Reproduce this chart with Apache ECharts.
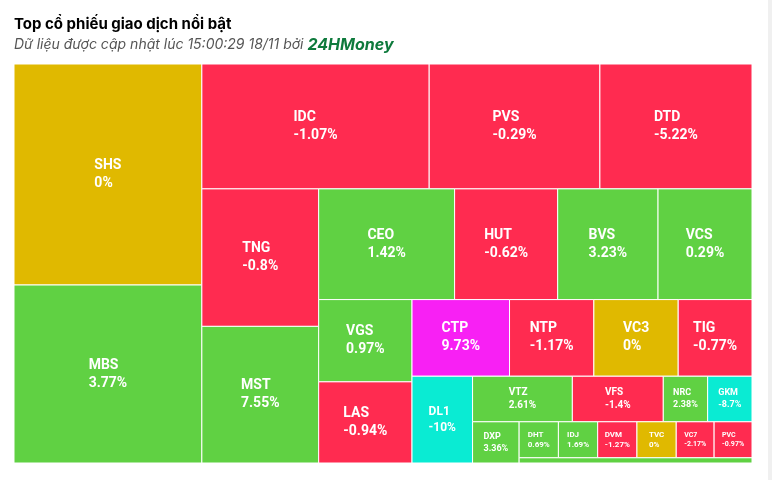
<!DOCTYPE html>
<html>
<head>
<meta charset="utf-8">
<script src="https://cdn.jsdelivr.net/npm/echarts@6/dist/echarts.min.js"></script>
<style>
  html, body { margin: 0; padding: 0; background: #fff; }
  #chart { width: 772px; height: 480px; }
  #bar { position: absolute; right: 0; top: 0; width: 4px; height: 480px; background: #f0f0f0; }
</style>
</head>
<body>
<div id="chart"></div>
<div id="bar"></div>
<script>
// ma co phieu
const codes = ['SHS', 'MBS', 'IDC', 'PVS', 'DTD', 'TNG', 'MST', 'CEO', 'HUT', 'BVS', 'VCS',
  'VGS', 'LAS', 'CTP', 'NTP', 'VC3', 'TIG', 'DL1', 'VTZ', 'VFS', 'NRC', 'GKM', 'DXP',
  'DHT', 'IDJ', 'DVM', 'TVC', 'VC7', 'PVC', ''];
// gia tri giao dich (uoc luong tu dien tich o)
const values = [411, 331, 281, 211, 188, 159, 158, 149, 113, 110, 103,
  76, 75, 74, 64, 64, 56, 52, 45, 41, 20, 20, 19,
  14, 14, 14, 14, 13.5, 13.5, 12];
// % thay doi gia
const changes = [0, 3.77, -1.07, -0.29, -5.22, -0.8, 7.55, 1.42, -0.62, 3.23, 0.29,
  0.97, -0.94, 9.73, -1.17, 0, -0.77, -10, 2.61, -1.4, 2.38, -8.7, 3.36,
  0.69, 1.69, -1.27, 0, -2.17, -0.97, 1];

function colorOf(c) {
  if (c >= 9.5) return '#f820f4';   // tran
  if (c <= -8.5) return '#0aebd3';  // san
  if (c > 0) return '#60d143';
  if (c < 0) return '#ff2b50';
  return '#e0b900';
}

// squarified, doi huong sau moi dai (kieu Highcharts)
function squarify(vals, W, H) {
  const out = [];
  let rx = 0, ry = 0, rw = W, rh = H;
  let rem = vals.reduce((a, b) => a + b, 0);
  let vertical = true;
  let i = 0;
  const ratio = (a, b) => Math.max(a / b, b / a);
  // ti le cua phan tu cuoi trong dai co tong s
  const lastRatio = (v, s) => {
    if (vertical) {
      const sw = rw * s / rem;
      return ratio(sw, rh * v / s);
    }
    const sh = rh * s / rem;
    return ratio(rw * v / s, sh);
  };
  while (i < vals.length) {
    let s = vals[i];
    let j = i + 1;
    while (j < vals.length) {
      const last = vals[j - 1];
      if (lastRatio(last, s + vals[j]) > lastRatio(last, s)) break;
      s += vals[j];
      j++;
    }
    if (vertical) {
      const sw = rw * s / rem;
      let yy = ry;
      for (let k = i; k < j; k++) {
        const hh = rh * vals[k] / s;
        out[k] = [rx, yy, sw, hh];
        yy += hh;
      }
      rx += sw; rw -= sw;
    } else {
      const sh = rh * s / rem;
      let xx = rx;
      for (let k = i; k < j; k++) {
        const ww = rw * vals[k] / s;
        out[k] = [xx, ry, ww, sh];
        xx += ww;
      }
      ry += sh; rh -= sh;
    }
    rem -= s;
    vertical = !vertical;
    i = j;
  }
  return out;
}

function fontOf(w, h) {
  const a = Math.sqrt(w * h);
  if (a >= 74) return 14;
  if (a >= 70) return 12;
  if (a >= 60) return 10;
  if (a >= 42) return 9;
  if (a >= 37.4) return 8;
  return 7;
}

let cells = null;

function renderItem(params, api) {
  const cs = params.coordSys;
  if (!cells) cells = squarify(values, cs.width, cs.height);
  const i = params.dataIndex;
  const r = cells[i];
  // doi sang toa do du lieu (0..1) roi qua truc
  const p0 = api.coord([r[0] / cs.width, r[1] / cs.height]);
  const p1 = api.coord([(r[0] + r[2]) / cs.width, (r[1] + r[3]) / cs.height]);
  const w = p1[0] - p0[0], h = p1[1] - p0[1];
  const fs = fontOf(w, h);
  const c = api.value(1);
  const el = {
    type: 'rect',
    shape: { x: p0[0], y: p0[1], width: w, height: h },
    style: { fill: colorOf(c), stroke: '#fff', lineWidth: 1 }
  };
  if (codes[i] !== '') {
    const st = { align: 'left', fontSize: fs, fontWeight: 'bold', fill: '#fff', lineHeight: Math.round(fs * 1.3), fontFamily: 'Roboto' };
    el.textContent = {
      type: 'text',
      style: {
        text: '{n|' + codes[i] + '}\n{p|' + c + '%}',
        fill: '#fff',
        rich: { n: st, p: st }
      }
    };
    el.textConfig = { position: 'inside' };
  }
  return el;
}

let myChart = echarts.init(document.getElementById('chart'));
myChart.setOption({
  animation: false,
  title: {
    left: 9,
    top: 12,
    text: 'Top cổ phiếu giao dịch nổi bật',
    textStyle: { fontSize: 15, fontWeight: 'bold', color: '#000', fontFamily: 'Inter' },
    subtext: '{a|Dữ liệu được cập nhật lúc 15:00:29 18/11 bởi }{b|24HMoney}',
    itemGap: 5,
    subtextStyle: {
      rich: {
        a: { fontSize: 14, fontStyle: 'italic', color: '#555', fontFamily: 'Inter' },
        b: { fontSize: 16, fontStyle: 'italic', fontWeight: 'bold', color: '#0e7a3c', fontFamily: 'Inter' }
      }
    }
  },
  grid: { left: 14, top: 64, right: 20, bottom: 17 },
  xAxis: { type: 'value', min: 0, max: 1, show: false },
  yAxis: { type: 'value', min: 0, max: 1, inverse: true, show: false },
  series: [{
    type: 'custom',
    renderItem: renderItem,
    data: codes.map((c, i) => ({ name: c, value: [values[i], changes[i]] }))
  }]
});

window.addEventListener('resize', () => {
  cells = null;
  myChart.resize();
});
</script>
</body>
</html>
